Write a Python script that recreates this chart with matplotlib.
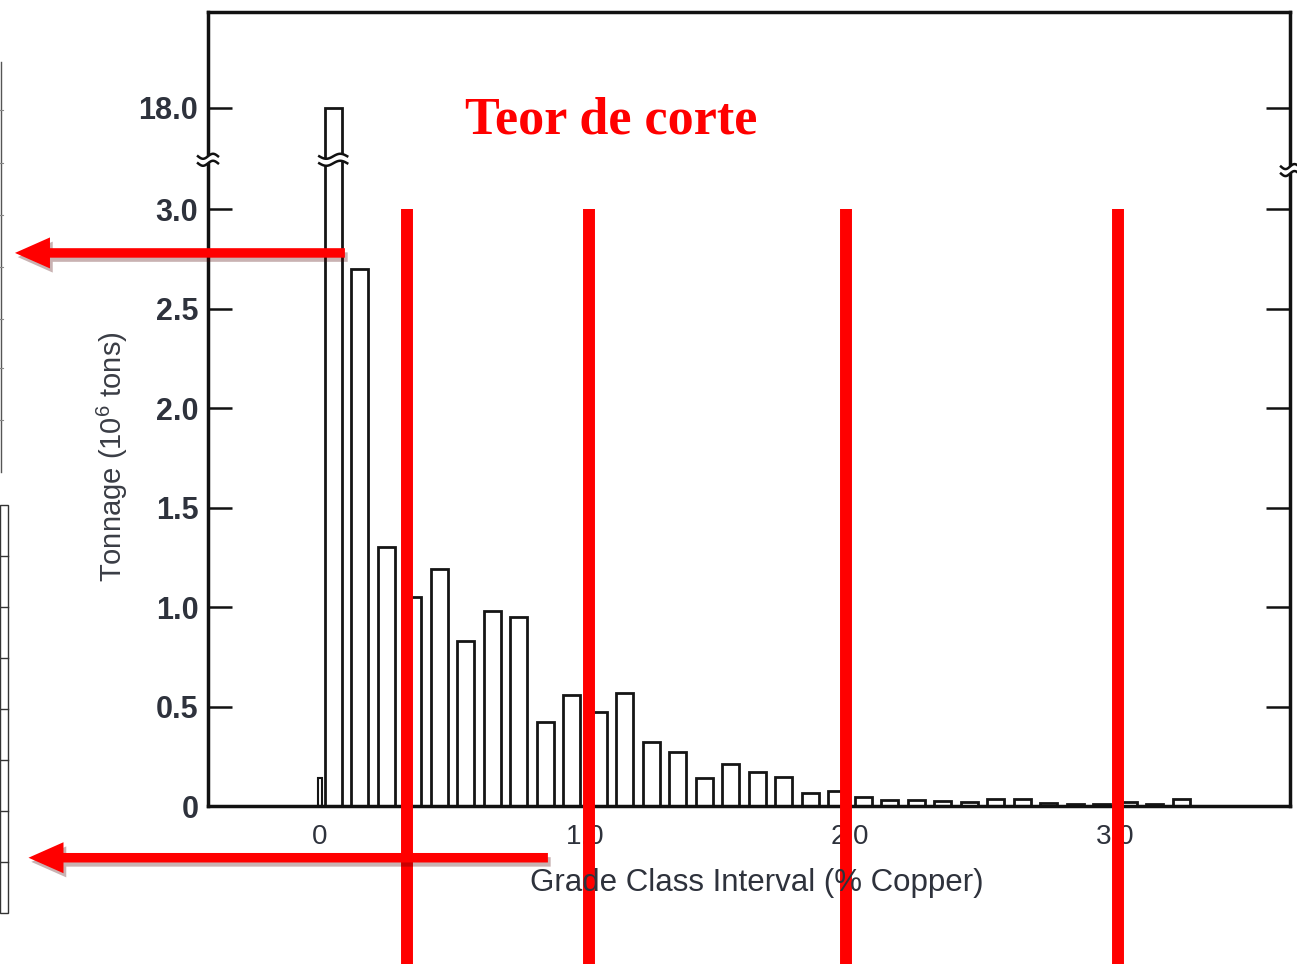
import numpy as np
import matplotlib.pyplot as plt
import matplotlib.patheffects as pe
from matplotlib.lines import Line2D
from matplotlib.patches import Polygon, Rectangle
from matplotlib.transforms import IdentityTransform

# datos (clases de ley de 0.1 % Cu)
grade_mid = [0.05, 0.15, 0.25, 0.35, 0.45, 0.55, 0.65, 0.75, 0.85, 0.95,
             1.05, 1.15, 1.25, 1.35, 1.45, 1.55, 1.65, 1.75, 1.85, 1.95,
             2.05, 2.15, 2.25, 2.35, 2.45, 2.55, 2.65, 2.75, 2.85, 2.95,
             3.05, 3.15, 3.25]
tonnage = [18.0, 2.70, 1.30, 1.05, 1.19, 0.83, 0.98, 0.95, 0.42, 0.56,
           0.47, 0.57, 0.32, 0.27, 0.14, 0.21, 0.17, 0.145, 0.065, 0.075,
           0.045, 0.03, 0.03, 0.025, 0.02, 0.035, 0.035, 0.015, 0.01, 0.01,
           0.02, 0.01, 0.035]
spike_x = [0.0]
spike_h = [0.14]

cutoffs = [0.33, 1.015, 1.985, 3.01]
yticks = [0, 0.5, 1.0, 1.5, 2.0, 2.5, 3.0, 18.0]
ytick_labels = ['0', '0.5', '1.0', '1.5', '2.0', '2.5', '3.0', '18.0']
xticks = [0, 1, 2, 3]
xtick_labels = ['0', '1.0', '2.0', '3.0']

W, H = 1297, 964
plt.rcParams['font.family'] = ['Liberation Sans', 'DejaVu Sans']
plt.rcParams['mathtext.fontset'] = 'custom'
plt.rcParams['mathtext.rm'] = 'Liberation Sans'


def fx(x):
    return x / W


def fy(y):
    return 1 - y / H


# eje y cortado: 3 -> 17 comprimido
bp_v = [-5, 0, 3, 17, 30]
bp_t = [-5, 0, 3, 3.25, 6.63]


def fwd(v):
    return np.interp(v, bp_v, bp_t)


def inv(t):
    return np.interp(t, bp_t, bp_v)


fig = plt.figure(figsize=(W / 100, H / 100), dpi=100)
ax = fig.add_axes([fx(208), fy(806), fx(1290) - fx(208), fy(12) - fy(806)])
ax.set_yscale('function', functions=(fwd, inv))
ax.set_xlim(-0.4226, 3.6604)
ax.set_ylim(0, 19.85)

ax.bar(grade_mid, tonnage, width=0.064, facecolor='white', edgecolor='#151515',
       linewidth=2.0, zorder=2)
ax.bar(spike_x, spike_h, width=0.012, facecolor='white', edgecolor='#151515',
       linewidth=1.5, zorder=2)

for s in ax.spines.values():
    s.set_linewidth(2.5)
    s.set_color('#111111')

ax.set_yticks(yticks)
ax.set_yticklabels(ytick_labels)
ax.set_xticks(xticks)
ax.set_xticklabels(xtick_labels)
ax.minorticks_off()
ax.tick_params(axis='y', direction='in', length=17, width=1.8, left=True, right=True,
               labelsize=22, pad=7, color='#111111', labelcolor='#2e323c')
ax.tick_params(axis='x', length=0, labelsize=20, pad=13, labelcolor='#2e323c')
for lbl in ax.get_yticklabels():
    lbl.set_fontweight('bold')

# lineas de teor de corte
for c in cutoffs:
    ax.plot([c, c], [3.0, -0.8], color='#ff0000', lw=8.6, clip_on=False, zorder=4,
            solid_capstyle='butt')

# flechas
arrow_kw = dict(arrowstyle='simple,head_length=0.7,head_width=0.62,tail_width=0.19',
                mutation_scale=36, lw=0, color='#ff0000', shrinkA=0, shrinkB=0,
                path_effects=[pe.SimplePatchShadow(offset=(2, -3), alpha=0.3), pe.Normal()])
ax.annotate('', xy=(-1.151, 2.78), xytext=(0.094, 2.78), arrowprops=arrow_kw,
            annotation_clip=False, zorder=5)
ax.annotate('', xy=(-1.10, -0.26), xytext=(0.86, -0.26), arrowprops=arrow_kw,
            annotation_clip=False, zorder=5)

fig.text(fx(611), fy(120), 'Teor de corte', family='Liberation Serif', weight='bold',
         size=37.5, color='#ff0000', ha='center', va='center')
fig.text(fx(112), fy(457), 'Tonnage (10$^{6}$ tons)', rotation=90, ha='center',
         va='center', fontsize=21, color='#3a3d45')
fig.text(fx(757), fy(883), 'Grade Class Interval (% Copper)', ha='center', va='center',
         fontsize=22.5, color='#2e323c')


# marcas de corte del eje
def wave_break(x, v, half_w):
    x0, y0 = ax.transData.transform((x, v))
    xs = np.linspace(-half_w, half_w, 40)
    top = 3.5 + 2.5 * np.sin(xs / half_w * np.pi)
    bot = top - 7
    pts = np.r_[np.c_[x0 + xs, y0 + top], np.c_[x0 + xs[::-1], y0 + bot[::-1]]]
    fig.add_artist(Polygon(pts, closed=True, facecolor='white', edgecolor='none',
                           transform=IdentityTransform(), zorder=6))
    for yy in (top, bot):
        fig.add_artist(Line2D(x0 + xs, y0 + yy, color='#111111', lw=1.8,
                              transform=IdentityTransform(), zorder=7))


wave_break(grade_mid[0], 16.9, 14)
wave_break(-0.4226, 16.9, 10)
wave_break(3.6604, 14.0, 9)

# restos de tabla a la izquierda
fig.add_artist(Line2D([fx(0.8), fx(0.8)], [fy(62), fy(472)], color='#555555', lw=1))
for yy in [110, 163, 215, 267, 319, 368, 420]:
    fig.add_artist(Line2D([fx(0), fx(3)], [fy(yy), fy(yy)], color='#888888', lw=0.8))
fig.add_artist(Rectangle((fx(0), fy(913)), fx(8), fy(505) - fy(913), facecolor='none',
                         edgecolor='#333333', lw=1))
for k in range(1, 8):
    yy = 505 + 51 * k
    fig.add_artist(Line2D([fx(0), fx(8)], [fy(yy), fy(yy)], color='#333333', lw=1))

fig.savefig('out.png', dpi=100)
